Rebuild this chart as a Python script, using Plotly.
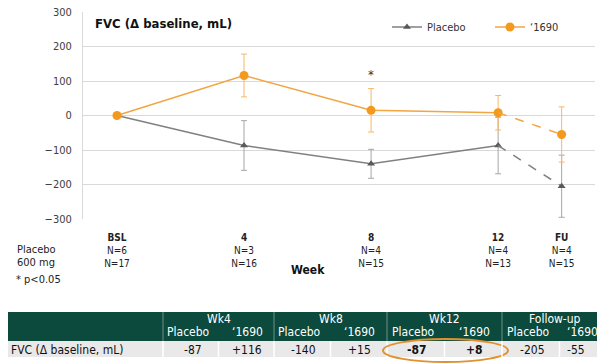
import plotly.graph_objects as go

# ---- data -------------------------------------------------------------
weeks = [0, 4, 8, 12, 14]                     # FU plotted at week 14
tick_names = ["BSL", "4", "8", "12", "FU"]
n_placebo = [6, 3, 4, 4, 4]
n_drug = [17, 16, 15, 13, 15]

placebo = [0, -87, -140, -87, -205]
placebo_err = [0, 72, 42, 82, 90]
drug = [0, 116, 15, 8, -55]
drug_err = [0, 62, 63, 50, 80]

table_groups = ["Wk4", "Wk8", "Wk12", "Follow-up"]
table_idx = [1, 2, 3, 4]                      # index into the series above
highlight_group = "Wk12"

# ---- styling ----------------------------------------------------------
FONT = "DejaVu Sans Condensed, DejaVu Sans, sans-serif"
ORANGE_LINE = "#F2A541"
ORANGE_MARK = "#F39A1E"
ORANGE_ERR = "#F5B968"
GRAY_LINE = "#808080"
GRAY_MARK = "#595959"
GRAY_ERR = "#A6A6A6"
GREEN = "#0B4A3C"

W, H = 597, 363
L, R, T, B = 83, 2, 12, 144
PW, PH = W - L - R, H - T - B


def px(x):
    return (x - L) / PW


def py(y):
    return (H - B - y) / PH


def label(x, y, text, size=11, color="#222222", xanchor="center"):
    return dict(x=px(x), y=py(y), xref="paper", yref="paper",
                xanchor=xanchor, yanchor="middle", showarrow=False,
                text=text, font=dict(family=FONT, size=size, color=color))


fig = go.Figure()

solid = slice(0, 4)
# placebo: solid to week 12, dashed to follow-up
fig.add_trace(go.Scatter(
    x=weeks[solid], y=placebo[solid], name="Placebo", mode="lines+markers",
    line=dict(color=GRAY_LINE, width=1.5),
    marker=dict(symbol="triangle-up", size=7, color=GRAY_MARK),
    error_y=dict(type="data", array=placebo_err[solid], color=GRAY_ERR,
                 thickness=1, width=3),
))
fig.add_trace(go.Scatter(
    x=weeks[3:], y=placebo[3:], mode="lines", showlegend=False,
    line=dict(color=GRAY_LINE, width=1.5, dash="dash"),
))
fig.add_trace(go.Scatter(
    x=weeks[4:], y=placebo[4:], mode="markers", showlegend=False,
    marker=dict(symbol="triangle-up", size=7, color=GRAY_MARK),
    error_y=dict(type="data", array=placebo_err[4:], color=GRAY_ERR,
                 thickness=1, width=3),
))

# '1690
fig.add_trace(go.Scatter(
    x=weeks[solid], y=drug[solid], name="\u20181690", mode="lines+markers",
    line=dict(color=ORANGE_LINE, width=1.5),
    marker=dict(symbol="circle", size=9, color=ORANGE_MARK),
    error_y=dict(type="data", array=drug_err[solid], color=ORANGE_ERR,
                 thickness=1, width=3),
))
fig.add_trace(go.Scatter(
    x=weeks[3:], y=drug[3:], mode="lines", showlegend=False,
    line=dict(color=ORANGE_LINE, width=1.5, dash="dash"),
))
fig.add_trace(go.Scatter(
    x=weeks[4:], y=drug[4:], mode="markers", showlegend=False,
    marker=dict(symbol="circle", size=9, color=ORANGE_MARK),
    error_y=dict(type="data", array=drug_err[4:], color=ORANGE_ERR,
                 thickness=1, width=3),
))

ticktext = [f"<b>{n}</b><br>N={a}<br>N={b}"
            for n, a, b in zip(tick_names, n_placebo, n_drug)]

annotations = [
    label(93, 23, "<b>FVC (\u0394 baseline, mL)</b>", size=13,
          color="#111111", xanchor="left"),
    dict(x=8, y=drug[2] + drug_err[2] + 40, xref="x", yref="y",
         xanchor="center", yanchor="middle", showarrow=False, text="*",
         font=dict(family=FONT, size=13, color="#333333")),
    label(15, 249, "Placebo", xanchor="left"),
    label(15, 262, "600 mg", xanchor="left"),
    label(14, 279, "* p<0.05", xanchor="left"),
    label(308, 270, "<b>Week</b>", size=12, color="#111111"),
]

# ---- summary table under the chart ------------------------------------
shapes = []
col_edges = [8, 163, 274, 387, 502, 617]
hdr_top, hdr_bot, row_bot = 312, 341, 357

shapes.append(dict(type="rect", xref="paper", yref="paper",
                   x0=px(col_edges[0]), x1=px(W), y0=py(hdr_bot), y1=py(hdr_top),
                   fillcolor=GREEN, line=dict(width=0), layer="above"))
shapes.append(dict(type="rect", xref="paper", yref="paper",
                   x0=px(col_edges[0]), x1=px(W), y0=py(row_bot), y1=py(hdr_bot),
                   fillcolor="#E9E9E9", line=dict(width=0), layer="above"))
annotations.append(label(9, 349.5, "FVC (\u0394 baseline, mL)", size=12,
                         color="#111111", xanchor="left"))


def fmt(v, signed):
    return f"{v:+d}" if signed else f"{v:d}"


for g, (name, idx) in enumerate(zip(table_groups, table_idx)):
    x0, x1 = col_edges[g + 1], col_edges[g + 2]
    w = x1 - x0
    # group divider lines
    shapes.append(dict(type="line", xref="paper", yref="paper",
                       x0=px(x0), x1=px(x0), y0=py(hdr_bot), y1=py(hdr_top),
                       line=dict(color="#6F8F86", width=1), layer="above"))
    shapes.append(dict(type="line", xref="paper", yref="paper",
                       x0=px(x0), x1=px(x0), y0=py(row_bot), y1=py(hdr_bot),
                       line=dict(color="#FFFFFF", width=1.5), layer="above"))
    shapes.append(dict(type="line", xref="paper", yref="paper",
                       x0=px(x0 + w * 0.5), x1=px(x0 + w * 0.5),
                       y0=py(row_bot), y1=py(hdr_bot),
                       line=dict(color="#FFFFFF", width=1.5), layer="above"))
    bold = name == highlight_group
    cx_p = x0 + 0.23 * w
    cx_d = min(x0 + 0.76 * w, 580)      # keep the last column inside the page
    head_x = x0 + w / 2 if x1 <= W else (x0 + W) / 2 + 5
    p_txt, d_txt = fmt(placebo[idx], False), fmt(drug[idx], True)
    if bold:
        p_txt, d_txt = f"<b>{p_txt}</b>", f"<b>{d_txt}</b>"
    annotations += [
        label(head_x, 319, name, size=12, color="white"),
        label(cx_p, 332, "Placebo", size=12, color="white"),
        label(cx_d + (2 if x1 > W else 0), 332, "\u20181690", size=12,
              color="white"),
        label(cx_p + 4, 349.5, p_txt, size=12, color="#111111"),
        label(cx_d - (4 if x1 > W else 0), 349.5, d_txt, size=12,
              color="#111111"),
    ]
    if bold:
        shapes.append(dict(type="circle", xref="paper", yref="paper",
                           x0=px(x0 - 4), x1=px(x1 + 6),
                           y0=py(362), y1=py(339),
                           line=dict(color="#E3912F", width=2),
                           layer="above"))

fig.update_layout(
    width=W, height=H,
    margin=dict(l=L, r=R, t=T, b=B, autoexpand=False),
    paper_bgcolor="white", plot_bgcolor="white",
    font=dict(family=FONT, size=11, color="#404040"),
    showlegend=True,
    legend=dict(orientation="h", x=px(387), y=py(27), xanchor="left",
                yanchor="middle", bgcolor="rgba(0,0,0,0)",
                font=dict(family=FONT, size=11, color="#333333"),
                itemwidth=30, entrywidth=58, tracegroupgap=0),
    xaxis=dict(range=[-1.07, 15.05], tickvals=weeks, ticktext=ticktext,
               showgrid=False, zeroline=False, showline=False, ticks="",
               ticklabelstandoff=11,
               tickfont=dict(family=FONT, size=10, color="#222222")),
    yaxis=dict(range=[-300, 300], dtick=100, showgrid=True,
               gridcolor="#D9D9D9", gridwidth=1, zeroline=False,
               showline=True, linecolor="#D9D9D9", linewidth=1, ticks="",
               ticklabelstandoff=8,
               tickfont=dict(family=FONT, size=11, color="#404040")),
    shapes=shapes,
    annotations=annotations,
)

fig.write_html("out.html")
